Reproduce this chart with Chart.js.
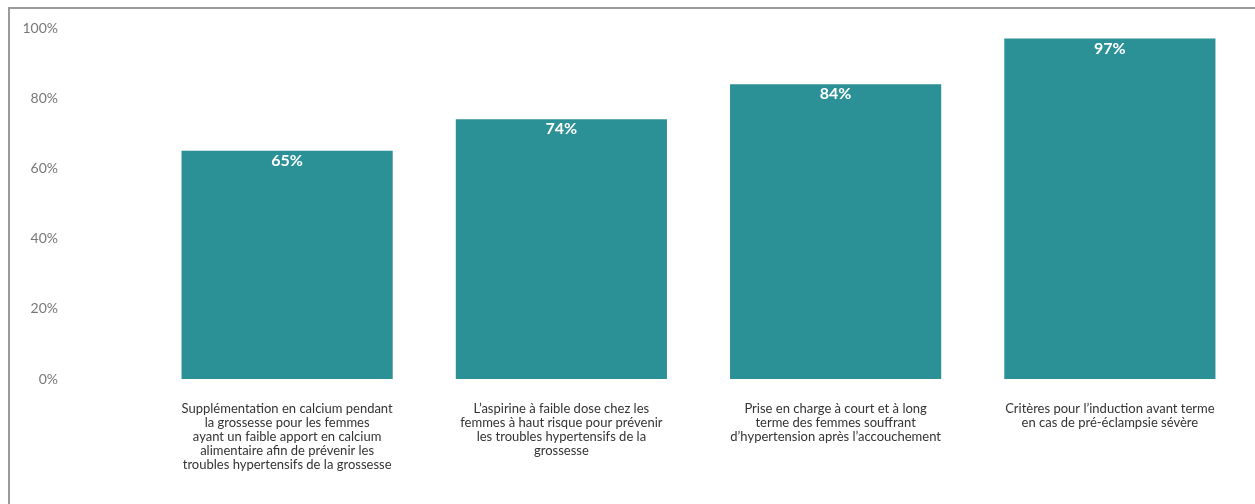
<!DOCTYPE html>
<html lang="fr">
<head>
<meta charset="utf-8">
<title>Couverture des recommandations</title>
<script src="https://cdn.jsdelivr.net/npm/chart.js@4/dist/chart.umd.min.js"></script>
<style>
    html, body { margin: 0; padding: 0; background: #ffffff; }
    .wrap { position: relative; width: 1255px; height: 504px; overflow: hidden; }
    .frame {
        position: absolute; left: 8px; top: 7px; right: -10px; bottom: -10px;
        border-left: 2px solid #9a9a9a; border-top: 2px solid #9a9a9a;
    }
    canvas { position: absolute; left: 0; top: 0; }
</style>
</head>
<body>
<div class="wrap">
    <div class="frame"></div>
    <canvas id="chart" width="1255" height="504"></canvas>
</div>
<script>
const categories = [
    ['Supplémentation en calcium pendant', 'la grossesse pour les femmes', 'ayant un faible apport en calcium', 'alimentaire afin de prévenir les', 'troubles hypertensifs de la grossesse'],
    ['L\u2019aspirine à faible dose chez les', 'femmes à haut risque pour prévenir', 'les troubles hypertensifs de la', 'grossesse'],
    ['Prise en charge à court et à long', 'terme des femmes souffrant', 'd\u2019hypertension après l\u2019accouchement'],
    ['Critères pour l\u2019induction avant terme', 'en cas de pré-éclampsie sévère']
];
const values = [65, 74, 84, 97];
const yTicks = [0, 20, 40, 60, 80, 100];

const FONT = 'Lato, "Open Sans", sans-serif';
const TEAL = '#2b9196';

// white value label near the top of each bar
const barLabels = {
    id: 'barLabels',
    afterDatasetsDraw(chart) {
        const ctx = chart.ctx;
        const meta = chart.getDatasetMeta(0);
        ctx.save();
        ctx.fillStyle = '#ffffff';
        ctx.font = 'bold 16px ' + FONT;
        ctx.textAlign = 'center';
        ctx.textBaseline = 'middle';
        meta.data.forEach((bar, i) => {
            ctx.fillText(values[i] + '%', bar.x, bar.y + 10);
        });
        ctx.restore();
    }
};

new Chart(document.getElementById('chart'), {
    type: 'bar',
    plugins: [barLabels],
    data: {
        labels: categories,
        datasets: [{
            data: values,
            backgroundColor: TEAL,
            borderWidth: 0,
            barPercentage: 0.77,
            categoryPercentage: 1
        }]
    },
    options: {
        responsive: false,
        animation: false,
        layout: {
            padding: { left: 20, right: 8, top: 28, bottom: 0 }
        },
        plugins: {
            legend: { display: false },
            tooltip: { enabled: false }
        },
        scales: {
            x: {
                grid: { display: false, drawTicks: false },
                border: { display: false },
                ticks: {
                    color: '#333333',
                    font: { family: FONT, size: 13, lineHeight: '14px' },
                    padding: 23,
                    maxRotation: 0,
                    autoSkip: false
                },
                afterFit(scale) { scale.height = 125; }
            },
            y: {
                min: 0,
                max: 100,
                grid: { display: false, drawTicks: false },
                border: { display: false },
                afterBuildTicks(scale) {
                    scale.ticks = yTicks.map(v => ({ value: v }));
                },
                ticks: {
                    color: '#777777',
                    font: { family: FONT, size: 14 },
                    padding: 92,
                    callback: v => v + '%'
                },
                afterFit(scale) {
                    // wide gap between labels and bars, without the vertical padding it adds
                    scale.width = 130;
                    scale.paddingTop = 8;
                    scale.paddingBottom = 8;
                }
            }
        }
    }
});
</script>
</body>
</html>
